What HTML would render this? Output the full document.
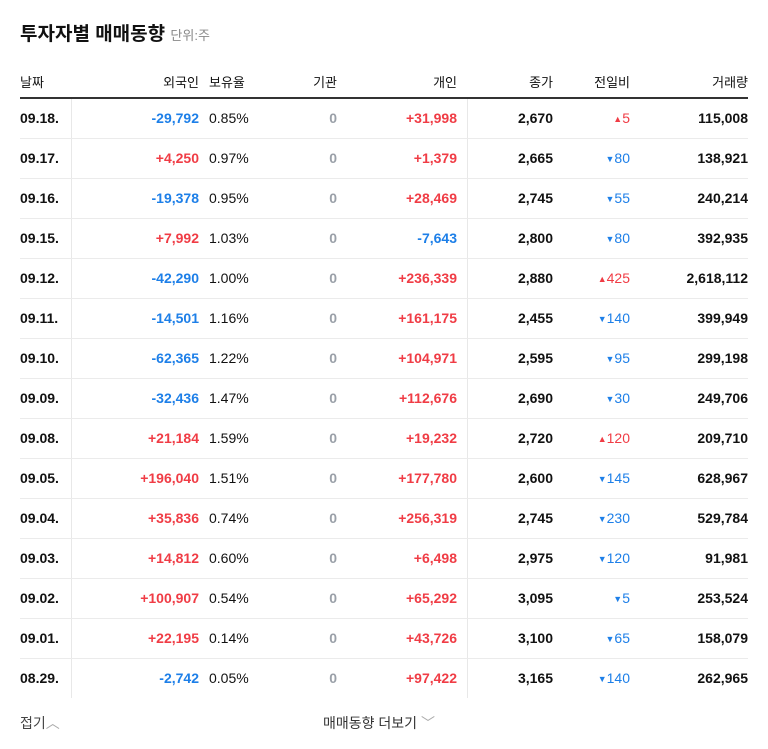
<!DOCTYPE html>
<html><head><meta charset="utf-8">
<style>
body{margin:0;width:768px;height:749px;background:#fff;font-family:"Liberation Sans","Noto Sans CJK KR",sans-serif;position:relative;overflow:hidden}
.a{position:absolute;white-space:nowrap}
.h{font-size:13px;color:#111;top:72px}
.c{font-size:14px;font-weight:bold;line-height:16px}
.r{text-align:right}
.up{color:#f03c45}.dn{color:#1d7fe8}.g{color:#9aa0a8}.k{color:#111}
</style></head><body>
<div class="a" style="left:20px;top:19px;font-size:19px;font-weight:bold;color:#111">투자자별 매매동향 <span style="font-size:13px;font-weight:normal;color:#888">단위:주</span></div>
<div class="a h" style="left:20px">날짜</div>
<div class="a h r" style="right:569px">외국인</div>
<div class="a h" style="left:209px">보유율</div>
<div class="a h r" style="right:431px">기관</div>
<div class="a h r" style="right:311px">개인</div>
<div class="a h r" style="right:215px">종가</div>
<div class="a h r" style="right:138px">전일비</div>
<div class="a h r" style="right:20px">거래량</div>
<div class="a" style="left:20px;top:97px;width:728px;height:2px;background:#333"></div>
<div class="a" style="left:71px;top:99px;width:1px;height:599px;background:#e8e8e8"></div>
<div class="a" style="left:467px;top:99px;width:1px;height:599px;background:#e8e8e8"></div>
<div id="rows"></div>
<div class="a" style="left:20px;top:713px;font-size:14px;color:#444">접기<span style="color:#aaa">︿</span></div>
<div class="a" style="left:323px;top:713px;font-size:14px;color:#333">매매동향 더보기 <span style="color:#aaa">﹀</span></div>
<script>
const dates=["09.18.","09.17.","09.16.","09.15.","09.12.","09.11.","09.10.","09.09.","09.08.","09.05.","09.04.","09.03.","09.02.","09.01.","08.29."];
const foreign=["-29,792","+4,250","-19,378","+7,992","-42,290","-14,501","-62,365","-32,436","+21,184","+196,040","+35,836","+14,812","+100,907","+22,195","-2,742"];
const holding=["0.85%","0.97%","0.95%","1.03%","1.00%","1.16%","1.22%","1.47%","1.59%","1.51%","0.74%","0.60%","0.54%","0.14%","0.05%"];
const inst=["0","0","0","0","0","0","0","0","0","0","0","0","0","0","0"];
const indiv=["+31,998","+1,379","+28,469","-7,643","+236,339","+161,175","+104,971","+112,676","+19,232","+177,780","+256,319","+6,498","+65,292","+43,726","+97,422"];
const closep=["2,670","2,665","2,745","2,800","2,880","2,455","2,595","2,690","2,720","2,600","2,745","2,975","3,095","3,100","3,165"];
const change=["+5","-80","-55","-80","+425","-140","-95","-30","+120","-145","-230","-120","-5","-65","-140"];
const volume=["115,008","138,921","240,214","392,935","2,618,112","399,949","299,198","249,706","209,710","628,967","529,784","91,981","253,524","158,079","262,965"];
const root=document.getElementById('rows');
function cell(txt,cls,style,name){const d=document.createElement('div');d.className='a c '+cls;d.style.cssText=style;d.textContent=txt;


root.appendChild(d);return d;}
function sc(v){return v[0]==='+'?'up':(v[0]==='-'?'dn':'k');}
dates.forEach((dt,i)=>{
 const y=110+i*40, t='top:'+y+'px;';
 cell(dt,'k','left:20px;'+t,'row-date');
 cell(foreign[i],'r '+sc(foreign[i]),'right:569px;'+t,'foreign-net');
 const h=cell(holding[i],'k','left:209px;font-weight:normal;'+t,'holding-ratio');
 cell(inst[i],'r g','right:431px;'+t,'institution-net');
 cell(indiv[i],'r '+sc(indiv[i]),'right:311px;'+t,'individual-net');
 cell(closep[i],'r k','right:215px;'+t,'close-price');
 const up=change[i][0]==='+';
 const ch=cell((up?'▲':'▼')+change[i].slice(1),'r '+(up?'up':'dn'),'right:138px;font-weight:normal;'+t,'price-change');
 ch.innerHTML='<span style="font-size:9px;vertical-align:1px">'+(up?'▲':'▼')+'</span>'+change[i].slice(1);
 cell(volume[i],'r k','right:20px;'+t,'volume');
 if(i<dates.length-1){const l=document.createElement('div');l.className='a';l.style.cssText='left:20px;width:728px;height:1px;background:#ebebeb;top:'+(138+i*40)+'px';
 
 
 root.appendChild(l);}
});
</script>
</body></html>
